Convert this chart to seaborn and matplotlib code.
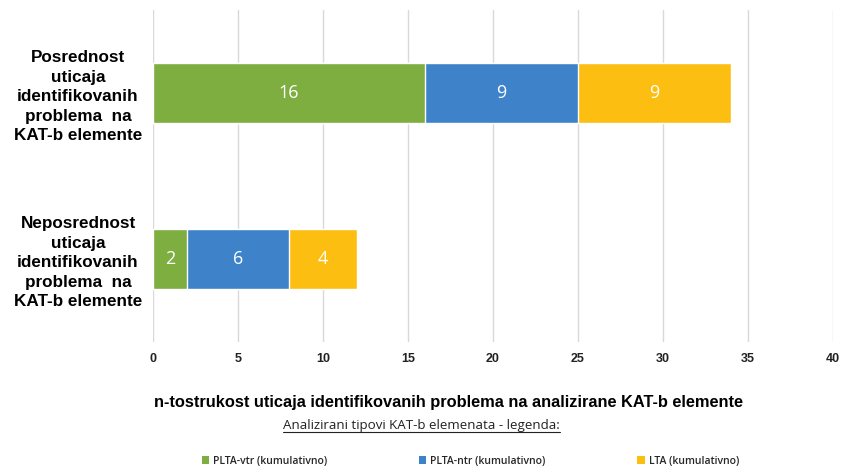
import matplotlib
matplotlib.use("Agg")
import matplotlib.pyplot as plt
import seaborn as sns
import pandas as pd
import numpy as np
from matplotlib.patches import Patch

categories = ["Posrednost\nuticaja\nidentifikovanih\nproblema  na\nKAT-b elemente",
              "Neposrednost\nuticaja\nidentifikovanih\nproblema  na\nKAT-b elemente"]
series_names = ["PLTA-vtr (kumulativno)", "PLTA-ntr (kumulativno)", "LTA (kumulativno)"]
plta_vtr = [16, 2]
plta_ntr = [9, 6]
lta = [9, 4]
colors = ["#7DAE3F", "#3E83C9", "#FDBE12"]
x_ticks = [0, 5, 10, 15, 20, 25, 30, 35, 40]

sns.set_theme(style="white")
plt.rcParams['font.family'] = ['Liberation Sans', 'DejaVu Sans']

fig = plt.figure(figsize=(8.43, 4.71), dpi=100)
ax = fig.add_axes([0.1815, 0.274, 0.8065, 0.705])

values = [plta_vtr, plta_ntr, lta]
cum = np.cumsum(np.array(values), axis=0)
# draw from the largest cumulative sum to the smallest so stacking shows
for i in range(len(values) - 1, -1, -1):
    df = pd.DataFrame({"cat": categories, "val": cum[i]})
    sns.barplot(data=df, x="val", y="cat", orient="h", color=colors[i],
                saturation=1, width=0.36, ax=ax, zorder=3)

for i, vals in enumerate(values):
    for j, v in enumerate(vals):
        center = cum[i][j] - v / 2
        ax.text(center, j, str(v), ha="center", va="center", color="white",
                fontsize=13, fontfamily="Open Sans", zorder=5)

ax.set_xlim(0, 40)
ax.set_ylim(1.5, -0.5)
ax.set_xticks(x_ticks)
ax.set_xticklabels([str(t) for t in x_ticks], fontsize=9, fontweight="bold",
                   color="#222222")
ax.tick_params(axis="x", length=0, pad=8)
for lbl in ax.get_yticklabels():
    lbl.set_fontsize(12.3)
    lbl.set_fontweight("bold")
    lbl.set_color("black")
    lbl.set_horizontalalignment("center")
    lbl.set_multialignment("center")
    lbl.set_linespacing(1.38)
ax.tick_params(axis="y", length=0, pad=54)
ax.set_xlabel("")
ax.set_ylabel("")
ax.grid(axis="x", color="#D9D9D9", linewidth=1, zorder=0)
ax.grid(axis="y", visible=False)
for s in ax.spines.values():
    s.set_visible(False)

fig.text(0.532, 1 - 403 / 471, "n-tostrukost uticaja identifikovanih problema na analizirane KAT-b elemente",
         ha="center", va="center", fontsize=11.8, fontweight="bold", color="black")
t2 = fig.text(0.500, 1 - 426 / 471, "Analizirani tipovi KAT-b elemenata - legenda:",
              ha="center", va="center", fontsize=9.6, color="#222222",
              fontfamily="Open Sans")

handles = [Patch(facecolor=c, edgecolor="none") for c in colors]
fig.legend(handles, series_names, loc="center", bbox_to_anchor=(0.558, 1 - 461 / 471),
           ncol=3, frameon=False, handlelength=0.7, handleheight=0.7,
           handletextpad=0.4, columnspacing=8.8,
           prop={"family": "Open Sans", "size": 7.5, "weight": "semibold"})

fig.canvas.draw()
renderer = fig.canvas.get_renderer()
bb = t2.get_window_extent(renderer).transformed(fig.transFigure.inverted())
fig.add_artist(plt.Line2D([bb.x0, bb.x1], [bb.y0 + 0.002, bb.y0 + 0.002],
                          transform=fig.transFigure, color="#222222", linewidth=0.8))

fig.savefig("out.png", dpi=100)
